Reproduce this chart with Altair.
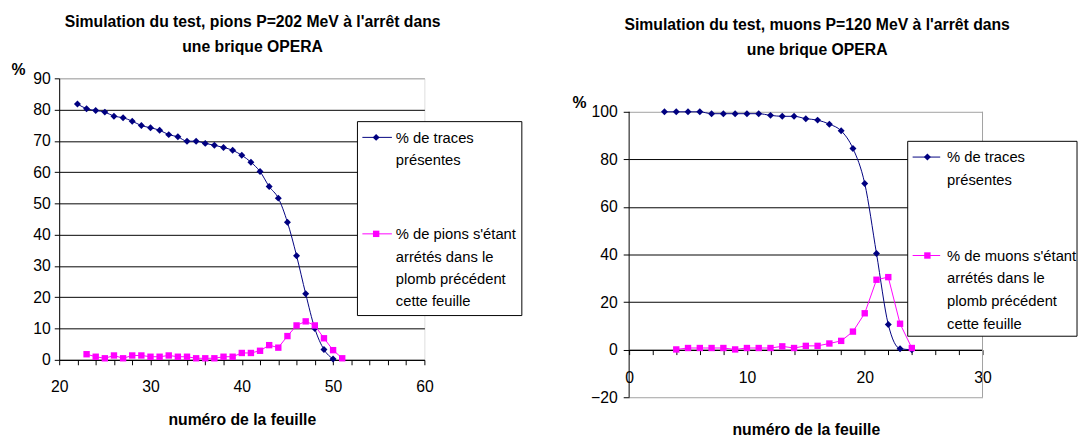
import altair as alt
import pandas as pd

FONT = "Liberation Sans"
GRAY = "#a0a0a0"
NAVY = "#000080"
MAGENTA = "#ff00ff"

# ---------------- data ----------------
pions_x_traces = list(range(22, 51))
pions_traces = [81.8, 80.3, 79.7, 79.2, 77.9, 77.4, 76.3, 74.9, 74.2, 73.4,
                72.0, 71.3, 69.9, 69.9, 69.2, 68.6, 67.9, 67.0, 65.4, 63.2,
                60.2, 55.4, 51.7, 44.0, 33.3, 21.1, 10.0, 3.3, 0.3]
pions_x_stop = list(range(23, 52))
pions_stop = [1.8, 1.0, 0.5, 1.4, 0.5, 1.4, 1.4, 1.0, 1.0, 1.4,
              1.0, 1.0, 0.5, 0.5, 0.5, 1.0, 1.0, 2.2, 2.2, 2.9,
              4.7, 3.9, 7.6, 11.0, 12.3, 11.0, 6.9, 3.1, 0.5]

muons_x_traces = list(range(3, 25))
muons_traces = [100.0, 100.0, 100.0, 100.0, 99.2, 99.2, 99.2, 99.2, 99.2, 98.5,
                98.1, 98.1, 97.1, 96.5, 94.8, 92.0, 84.6, 69.9, 40.4, 10.6,
                0.4, 0.0]
muons_x_stop = list(range(4, 25))
muons_stop = [0.1, 0.7, 0.7, 0.7, 0.7, 0.1, 0.7, 0.7, 0.7, 1.4,
              0.7, 1.6, 1.6, 2.6, 3.7, 7.6, 15.3, 29.4, 30.5, 10.9,
              0.7]

left_title = ["Simulation du test, pions P=202 MeV à l'arrêt dans", "une brique OPERA"]
right_title = ["Simulation du test, muons P=120 MeV à l'arrêt dans", "une brique OPERA"]
legend_traces = ["% de traces", "présentes"]
legend_pions = ["% de pions s'étant", "arrétés dans le", "plomb précédent", "cette feuille"]
legend_muons = ["% de muons s'étant", "arrétés dans le", "plomb précédent", "cette feuille"]
x_title = "numéro de la feuille"
y_title = "%"

left_x_domain = [20, 60]
left_x_ticks = list(range(20, 61, 2))
left_y_domain = [0, 90]
left_y_ticks = list(range(0, 91, 10))
right_x_domain = [0, 30]
right_x_ticks = list(range(0, 31, 2))
right_y_frame = [-20, 100]
right_y_ticks = list(range(-20, 101, 20))

# ---------------- layout ----------------
W1, H1 = 371, 286
W2, H2_FRAME = 359, 290
EXTRA_TOP = 34                      # right frame starts lower than the left one
H2 = H2_FRAME + EXTRA_TOP
PX_PER_UNIT = H2_FRAME / (right_y_frame[1] - right_y_frame[0])
right_y_domain = [right_y_frame[0], right_y_frame[1] + EXTRA_TOP / PX_PER_UNIT]


def series_layers(xs, ys, color, shape, size, interp, xenc, yenc):
    df = pd.DataFrame({"feuille": xs, "pct": ys})
    base = alt.Chart(df).encode(x=xenc, y=yenc)
    line = base.mark_line(color=color, strokeWidth=1, interpolate=interp)
    pts = base.mark_point(color=color, filled=True, shape=shape, size=size, opacity=1)
    return [line, pts]


def legend_layers(box, entries):
    one = pd.DataFrame({"k": [0]})
    layers = [
        alt.Chart(one).mark_rect(fill="white", stroke="black", strokeWidth=1).encode(
            x=alt.value(box[0]), x2=alt.value(box[1]), y=alt.value(box[2]), y2=alt.value(box[3])
        )
    ]
    for e in entries:
        layers.append(
            alt.Chart(one).mark_rule(color=e["color"], strokeWidth=1).encode(
                x=alt.value(e["x1"]), x2=alt.value(e["x2"]), y=alt.value(e["y"])
            )
        )
        layers.append(
            alt.Chart(one).mark_point(color=e["color"], filled=True, shape=e["shape"],
                                      size=e["size"], opacity=1).encode(
                x=alt.value(e["xm"]), y=alt.value(e["y"])
            )
        )
        layers.append(
            alt.Chart(one).mark_text(align="left", baseline="top", font=FONT, fontSize=15,
                                     lineHeight=e["lh"], color="black").encode(
                x=alt.value(e["xt"]), y=alt.value(e["yt"]), text=alt.value(e["lines"])
            )
        )
    return layers


def x_axis(ticks, label_pad, title_y, offset=0):
    return alt.Axis(
        values=ticks,
        labelExpr="datum.value % 10 === 0 ? datum.label : ''",
        grid=False, domainColor="black", domainWidth=1, tickColor="black", tickWidth=1,
        tickSize=5, labelFont=FONT, labelFontSize=16, labelColor="black",
        labelPadding=label_pad, labelBaseline="middle", labelFlush=False, labelOverlap=False,
        offset=offset,
        title=x_title, titleFont=FONT, titleFontSize=16, titleFontWeight="bold",
        titleColor="black", titleY=title_y, titleBaseline="middle",
    )


def y_axis(ticks, gray_test, tick_size, label_pad, title_x, title_y, domain=True):
    return alt.Axis(
        values=ticks, grid=True,
        gridColor={"condition": {"test": gray_test, "value": GRAY}, "value": "black"},
        gridWidth=1, domain=domain, domainColor="black", domainWidth=1,
        tickColor="black", tickWidth=1,
        tickSize=tick_size, labelFont=FONT, labelFontSize=16, labelColor="black",
        labelPadding=label_pad, labelOverlap=False, labelFlush=False,
        title=y_title, titleAngle=0, titleAlign="left", titleBaseline="middle",
        titleX=title_x, titleY=title_y, titleFont=FONT, titleFontSize=16,
        titleFontWeight="bold", titleColor="black",
    )


# ---------------- left chart ----------------
xl = alt.X("feuille:Q", scale=alt.Scale(domain=left_x_domain, nice=False, zero=False),
           axis=x_axis(left_x_ticks, 22, 61))
yl = alt.Y("pct:Q", scale=alt.Scale(domain=left_y_domain, nice=False),
           axis=y_axis(left_y_ticks, "datum.value === 90", 5, 4, -49, -9))

left_layers = (
    series_layers(pions_x_traces, pions_traces, NAVY, "diamond", 50, "monotone", xl, yl)
    + series_layers(pions_x_stop, pions_stop, MAGENTA, "square", 42, "linear", xl, yl)
    + legend_layers(
        (303, 470, 44, 241),
        [
            dict(color=NAVY, x1=308, x2=338, xm=322, y=60, shape="diamond", size=50,
                 xt=342, yt=53.4, lines=legend_traces, lh=22.7),
            dict(color=MAGENTA, x1=308, x2=338, xm=322, y=158, shape="square", size=42,
                 xt=342, yt=151.4, lines=legend_pions, lh=22.7),
        ],
    )
)

left = alt.layer(*left_layers).properties(
    width=W1, height=H1,
    title=alt.TitleParams(left_title, font=FONT, fontSize=16, fontWeight="bold", color="black",
                          lineHeight=25, offset=7, dx=11, anchor="middle", frame="group"),
)

# ---------------- right chart ----------------
xr = alt.X("feuille:Q", scale=alt.Scale(domain=right_x_domain, nice=False, zero=False),
           axis=x_axis(right_x_ticks, 23, 81, offset=-PX_PER_UNIT * (0 - right_y_frame[0])))
yr = alt.Y("pct:Q", scale=alt.Scale(domain=right_y_domain, nice=False),
           axis=y_axis(right_y_ticks, "datum.value === 100 || datum.value === -20",
                       6, 6, -58, 25, domain=False))

# frame of the right plot: gray right border and black left axis line (-20 .. 100)
frame_right_df = pd.DataFrame({"feuille": [right_x_domain[1]], "pct": [right_y_frame[0]],
                               "pct_top": [right_y_frame[1]]})
frame_left_df = pd.DataFrame({"feuille": [right_x_domain[0]], "pct": [right_y_frame[0]],
                              "pct_top": [right_y_frame[1]]})
right_frame = [
    alt.Chart(frame_right_df).mark_rule(color=GRAY, strokeWidth=1).encode(
        x=xr, y=yr, y2="pct_top:Q"
    ),
    alt.Chart(frame_left_df).mark_rule(color="black", strokeWidth=1).encode(
        x=xr, y=yr, y2="pct_top:Q"
    ),
]

dy = EXTRA_TOP
right_layers = (
    series_layers(muons_x_traces, muons_traces, NAVY, "diamond", 50, "monotone", xr, yr)
    + series_layers(muons_x_stop, muons_stop, MAGENTA, "square", 42, "linear", xr, yr)
    + right_frame
    + legend_layers(
        (283, 455, 30 + dy, 228 + dy),
        [
            dict(color=NAVY, x1=288, x2=316, xm=303, y=46 + dy, shape="diamond", size=50,
                 xt=323, yt=39.4 + dy, lines=legend_traces, lh=23),
            dict(color=MAGENTA, x1=288, x2=316, xm=303, y=146 + dy, shape="square", size=42,
                 xt=323, yt=139.4 + dy, lines=legend_muons, lh=23),
        ],
    )
)

right = alt.layer(*right_layers).properties(
    width=W2, height=H2,
    view=alt.ViewBackground(strokeOpacity=0),
    title=alt.TitleParams(right_title, font=FONT, fontSize=16, fontWeight="bold", color="black",
                          lineHeight=25, offset=21, dx=11.5, anchor="middle", frame="group"),
)

chart = (
    alt.hconcat(left, right, spacing=50)
    .properties(padding={"left": 2, "top": 2, "right": 0, "bottom": 0}, background="white")
    .configure_view(stroke=GRAY, strokeWidth=1)
    .configure(font=FONT)
)

chart.save("out.html", embed_options={"renderer": "svg", "actions": False})
